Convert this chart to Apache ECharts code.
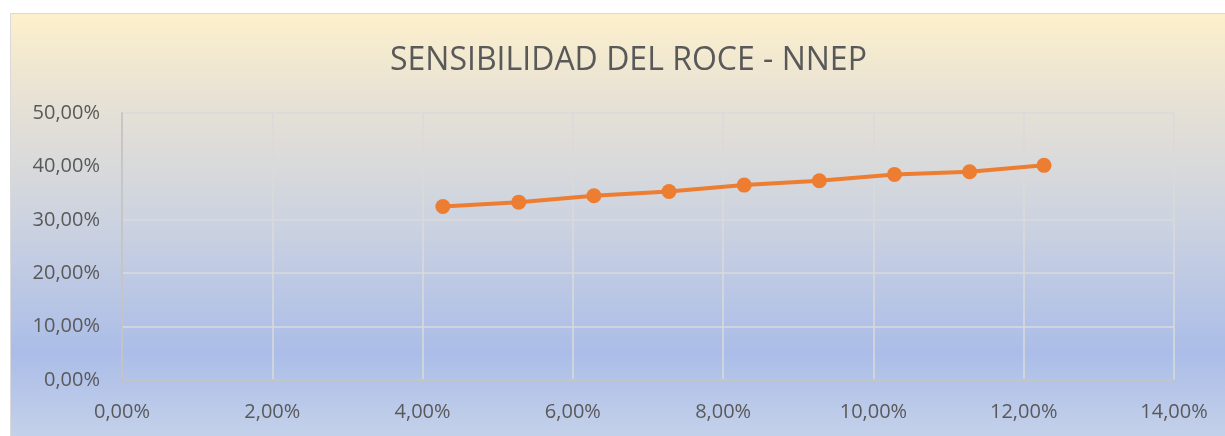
<!DOCTYPE html>
<html>
<head>
<meta charset="utf-8">
<script src="https://cdn.jsdelivr.net/npm/echarts@6/dist/echarts.min.js"></script>
<style>
	html, body { margin: 0; padding: 0; background: #fff; }
	#chart { width: 1225px; height: 436px; }
</style>
</head>
<body>
<div id="chart"></div>
<script>
	// tasa (eje x, %) y ROCE (eje y, %)
	var xValues = [4.27, 5.28, 6.28, 7.28, 8.28, 9.28, 10.28, 11.28, 12.27];
	var yValues = [32.5, 33.3, 34.5, 35.3, 36.5, 37.3, 38.5, 39.0, 40.2];
	var titleText = 'SENSIBILIDAD DEL ROCE - NNEP';

	var chart = echarts.init(document.getElementById('chart'));
	var pts = [];
	for (var i = 0; i < xValues.length; i++) {
		pts.push([xValues[i], yValues[i]]);
	}
	function pct(v) {
		return v.toFixed(2).replace('.', ',') + '%';
	}
	var option = {
		animation: false,
		graphic: [{
			type: 'rect',
			z: -10,
			left: 10,
			top: 13,
			shape: { width: 1215, height: 423 },
			style: {
				fill: new echarts.graphic.LinearGradient(0, 0, 0, 1, [
					{ offset: 0, color: '#fdf0cb' },
					{ offset: 0.2, color: '#e8e2d5' },
					{ offset: 0.5, color: '#cbd2e0' },
					{ offset: 0.8, color: '#abbde8' },
					{ offset: 1, color: '#c4d1ea' }
				]),
				stroke: '#d9d9d9',
				lineWidth: 1
			}
		}],
		title: {
			text: titleText,
			left: 385,
			top: 40,
			textStyle: {
				fontFamily: 'Open Sans',
				fontWeight: 'normal',
				fontSize: 32,
				color: '#595959'
			}
		},
		grid: {
			left: 122,
			right: 51,
			top: 113,
			bottom: 56
		},
		xAxis: {
			type: 'value',
			min: 0,
			max: 14,
			interval: 2,
			axisLine: { show: true, lineStyle: { color: '#bfbfbf', width: 1.5 } },
			axisTick: { show: false },
			splitLine: { show: true, lineStyle: { color: '#dadada', width: 1.5 } },
			axisLabel: {
				margin: 22,
				color: '#595959',
				fontFamily: 'Open Sans',
				fontSize: 20,
				formatter: pct
			}
		},
		yAxis: {
			type: 'value',
			min: 0,
			max: 50,
			interval: 10,
			axisLine: { show: true, lineStyle: { color: '#bfbfbf', width: 1.5 } },
			axisTick: { show: false },
			splitLine: { show: true, lineStyle: { color: '#dadada', width: 1.5 } },
			axisLabel: {
				margin: 22,
				color: '#595959',
				fontFamily: 'Open Sans',
				fontSize: 20,
				formatter: pct
			}
		},
		series: [{
			type: 'line',
			data: pts,
			symbol: 'circle',
			symbolSize: 15,
			lineStyle: { color: '#ed7d31', width: 4 },
			itemStyle: { color: '#ed7d31' }
		}]
	};
	chart.setOption(option);
</script>
</body>
</html>
